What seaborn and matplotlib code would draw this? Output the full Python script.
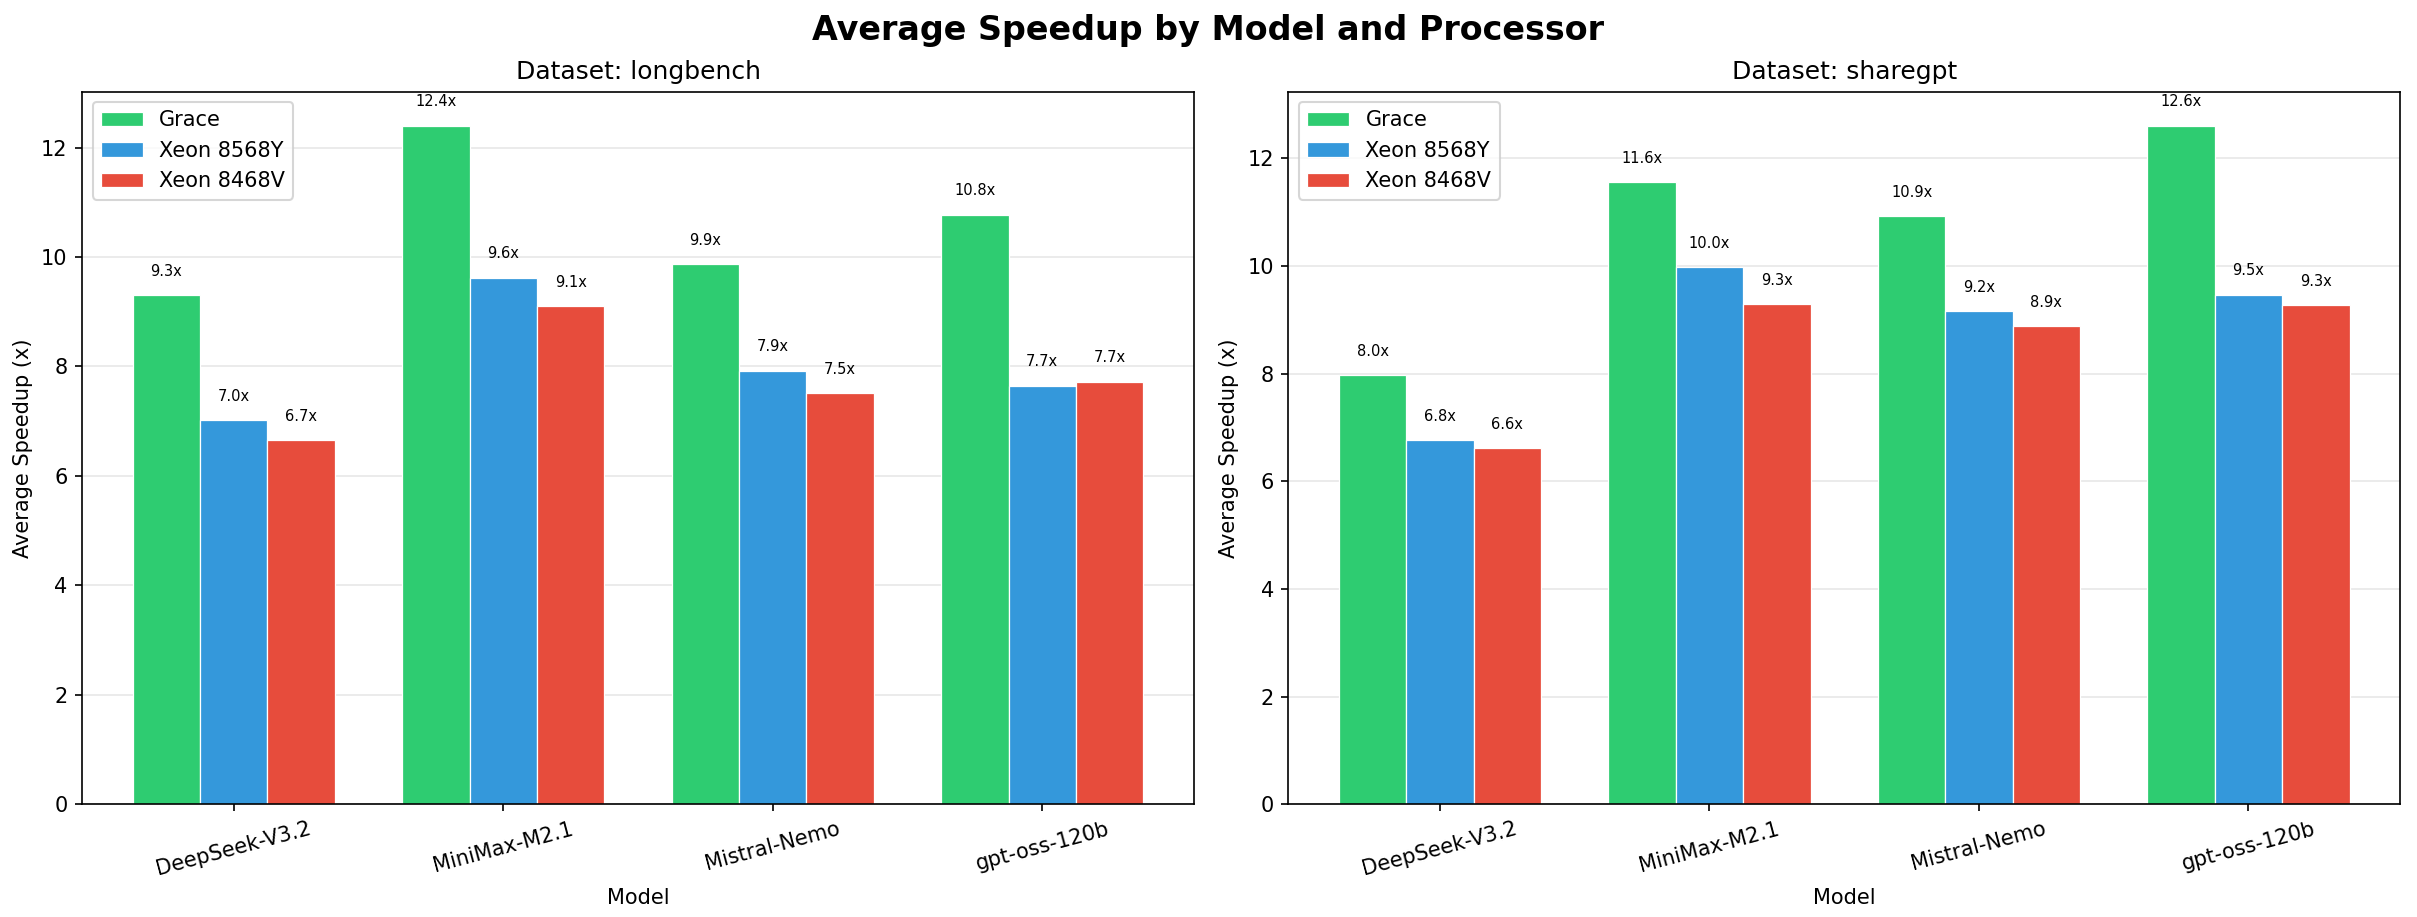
import matplotlib
matplotlib.use("Agg")
import matplotlib.pyplot as plt
import seaborn as sns
import pandas as pd

models = ["DeepSeek-V3.2", "MiniMax-M2.1", "Mistral-Nemo", "gpt-oss-120b"]
processors = ["Grace", "Xeon 8568Y", "Xeon 8468V"]
datasets = ["longbench", "sharegpt"]

longbench_grace = [9.30, 12.40, 9.87, 10.77]
longbench_8568y = [7.02, 9.62, 7.92, 7.65]
longbench_8468v = [6.65, 9.10, 7.51, 7.72]

sharegpt_grace = [7.98, 11.56, 10.93, 12.61]
sharegpt_8568y = [6.76, 9.98, 9.17, 9.47]
sharegpt_8468v = [6.62, 9.30, 8.88, 9.27]

colors = ["#2ecc71", "#3498db", "#e74c3c"]

values = {
    "longbench": [longbench_grace, longbench_8568y, longbench_8468v],
    "sharegpt": [sharegpt_grace, sharegpt_8568y, sharegpt_8468v],
}

rows = []
for ds in datasets:
    for p, series in zip(processors, values[ds]):
        for m, v in zip(models, series):
            rows.append({"Dataset": ds, "Processor": p, "Model": m, "Speedup": v})
df = pd.DataFrame(rows)

fig, axes = plt.subplots(1, 2, figsize=(2417 / 150, 917 / 150), dpi=150)
fig.subplots_adjust(left=0.034, right=0.993, top=0.900, bottom=0.123, wspace=0.085)

for ax, ds in zip(axes, datasets):
    sub = df[df["Dataset"] == ds]
    sns.barplot(data=sub, x="Model", y="Speedup", hue="Processor",
                order=models, hue_order=processors, palette=colors,
                width=0.75, gap=0, errorbar=None, saturation=1,
                edgecolor="white", linewidth=0.6, ax=ax)
    for container in ax.containers:
        for bar in container:
            h = bar.get_height()
            ax.text(bar.get_x() + bar.get_width() / 2, h + 0.3, f"{h:.1f}x",
                    ha="center", va="bottom", fontsize=7)
    ax.set_xlim(-0.5625, len(models) - 1 + 0.5625)
    ax.set_title(f"Dataset: {ds}", fontsize=12)
    ax.set_xlabel("Model", fontsize=10)
    ax.set_ylabel("Average Speedup (x)", fontsize=10)
    ax.tick_params(axis="x", labelrotation=15)
    ax.grid(axis="y", alpha=0.3)
    ax.set_axisbelow(True)
    ax.legend(loc="upper left", fontsize=10)

fig.suptitle("Average Speedup by Model and Processor", fontsize=16, fontweight="bold", y=0.985)
fig.savefig("out.png", dpi=150)
